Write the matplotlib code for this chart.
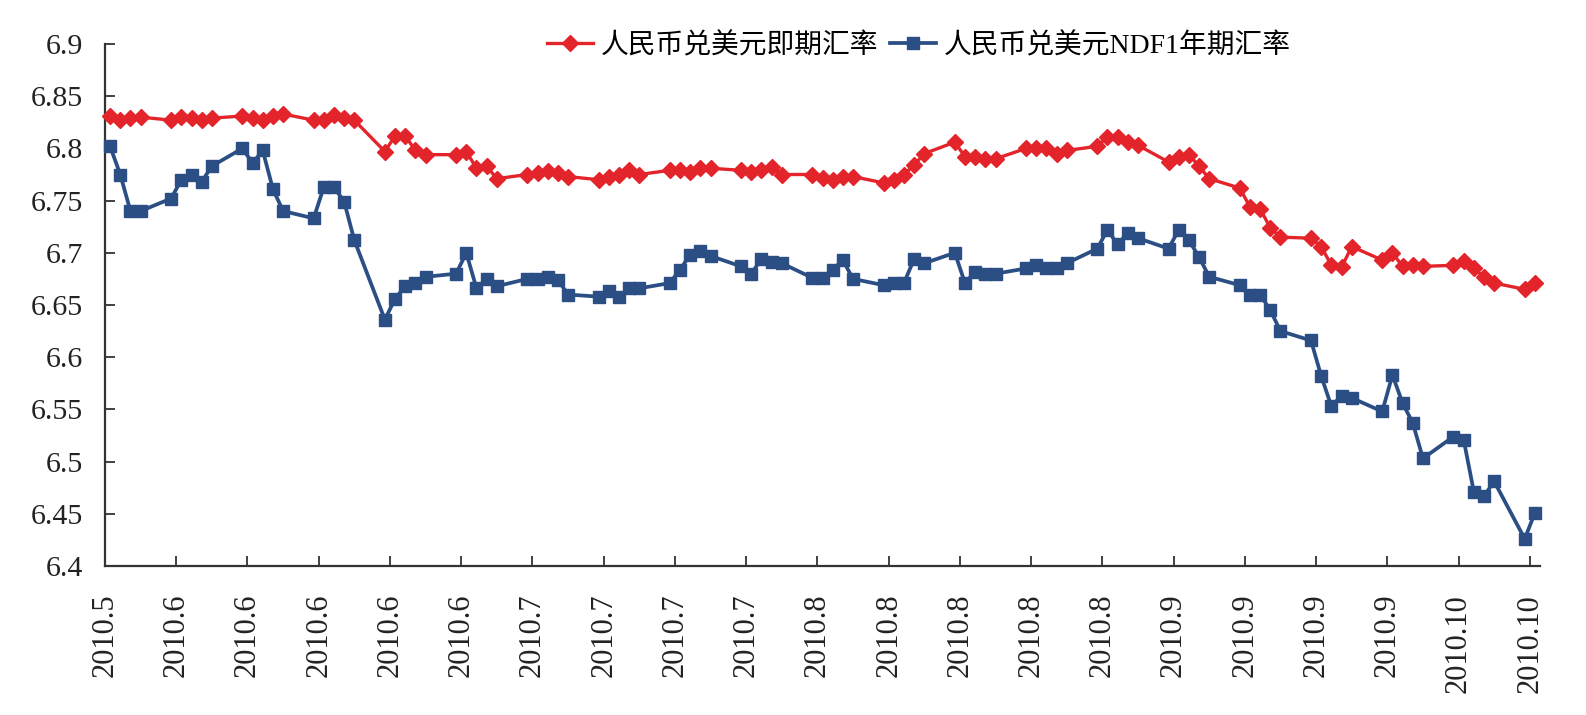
import numpy as np
import pandas as pd
import matplotlib
matplotlib.use('Agg')
import matplotlib.pyplot as plt
import matplotlib.dates as mdates

# Trading days shown (weekdays, 2010-05-25 .. 2010-10-12)
dates = pd.bdate_range('2010-05-25', '2010-10-12')

# 人民币兑美元即期汇率
spot = [6.831, 6.827, 6.829, 6.830,
        6.827, 6.830, 6.829, 6.827, 6.829,
        6.831, 6.829, 6.827, 6.831, 6.833,
        6.827, 6.827, 6.832, 6.829, 6.827,
        6.797, 6.812, 6.812, 6.798, 6.794,
        6.794, 6.797, 6.781, 6.783, 6.771,
        6.775, 6.776, 6.778, 6.776, 6.773,
        6.770, 6.773, 6.775, 6.779, 6.775,
        6.779, 6.779, 6.777, 6.781, 6.781,
        6.779, 6.777, 6.779, 6.782, 6.775,
        6.775, 6.772, 6.770, 6.773, 6.773,
        6.767, 6.770, 6.775, 6.784, 6.795,
        6.806, 6.792, 6.792, 6.790, 6.790,
        6.800, 6.800, 6.800, 6.795, 6.798,
        6.802, 6.811, 6.811, 6.806, 6.803,
        6.787, 6.792, 6.794, 6.783, 6.771,
        6.762, 6.744, 6.742, 6.724, 6.715,
        6.714, 6.706, 6.688, 6.686, 6.706,
        6.693, 6.700, 6.687, 6.688, 6.687,
        6.688, 6.692, 6.685, 6.677, 6.671,
        6.665, 6.671]

# 人民币兑美元NDF1年期汇率
ndf = [6.802, 6.775, 6.740, 6.740,
       6.752, 6.770, 6.775, 6.768, 6.783,
       6.800, 6.786, 6.798, 6.761, 6.740,
       6.733, 6.763, 6.763, 6.749, 6.712,
       6.636, 6.656, 6.668, 6.671, 6.677,
       6.680, 6.700, 6.666, 6.675, 6.668,
       6.675, 6.675, 6.677, 6.674, 6.660,
       6.658, 6.663, 6.658, 6.666, 6.666,
       6.671, 6.684, 6.698, 6.702, 6.697,
       6.687, 6.680, 6.694, 6.691, 6.690,
       6.676, 6.676, 6.684, 6.693, 6.675,
       6.669, 6.671, 6.671, 6.694, 6.690,
       6.700, 6.671, 6.682, 6.680, 6.680,
       6.685, 6.688, 6.685, 6.685, 6.690,
       6.704, 6.722, 6.708, 6.719, 6.714,
       6.704, 6.722, 6.712, 6.696, 6.677,
       6.669, 6.660, 6.660, 6.645, 6.625,
       6.616, 6.582, 6.553, 6.563, 6.561,
       6.548, 6.583, 6.556, 6.537, 6.503,
       6.524, 6.521, 6.471, 6.467, 6.481,
       6.426, 6.451]

series_labels = ['人民币兑美元即期汇率', '人民币兑美元NDF1年期汇率']
tick_dates = pd.date_range('2010-05-25', '2010-10-12', freq='7D')
tick_labels = [f"{d.year}.{d.month}" for d in tick_dates]
y_ticks = [6.4, 6.45, 6.5, 6.55, 6.6, 6.65, 6.7, 6.75, 6.8, 6.85, 6.9]

RED = '#E3242B'
BLUE = '#2B4F85'
AX = '#333333'

plt.rcParams['font.family'] = ['Liberation Serif', 'Noto Sans CJK SC']

W, H = 1586, 715
fig = plt.figure(figsize=(W / 100, H / 100), dpi=100)
ax = fig.add_axes([105 / W, 1 - 566 / H, (1540 - 105) / W, (566 - 44) / H])

x = mdates.date2num(dates) + 0.5
ax.plot(x, spot, color=RED, lw=2.4, marker='D', ms=8, mfc=RED, mec=RED,
        label=series_labels[0], clip_on=False, zorder=3)
ax.plot(x, ndf, color=BLUE, lw=2.7, marker='s', ms=9, mfc=BLUE, mec=BLUE,
        label=series_labels[1], clip_on=False, zorder=3)

ax.set_xlim(mdates.date2num(pd.Timestamp('2010-05-25')),
            mdates.date2num(pd.Timestamp('2010-10-13')))
ax.set_ylim(6.4, 6.9)
ax.set_xticks(mdates.date2num(tick_dates))
ax.set_xticklabels(tick_labels, rotation=90, fontsize=22, color='#222222')
ax.set_yticks(y_ticks)
ax.set_yticklabels([f"{v:g}" for v in y_ticks], fontsize=21.5, color='#222222')

for s in ['top', 'right']:
    ax.spines[s].set_visible(False)
for s in ['left', 'bottom']:
    ax.spines[s].set_color(AX)
    ax.spines[s].set_linewidth(1.6)

ax.tick_params(direction='in', length=7.5, width=1.3, color=AX)
ax.tick_params(axis='y', pad=16)
ax.tick_params(axis='x', pad=20)

ax.legend(loc='center left', bbox_to_anchor=(547 / W, 1 - 46 / H),
          bbox_transform=fig.transFigure, ncol=2, frameon=False,
          fontsize=20, handlelength=1.65, handletextpad=0.3,
          columnspacing=0.4, borderpad=0, borderaxespad=0)

fig.savefig('out.png', dpi=100)
